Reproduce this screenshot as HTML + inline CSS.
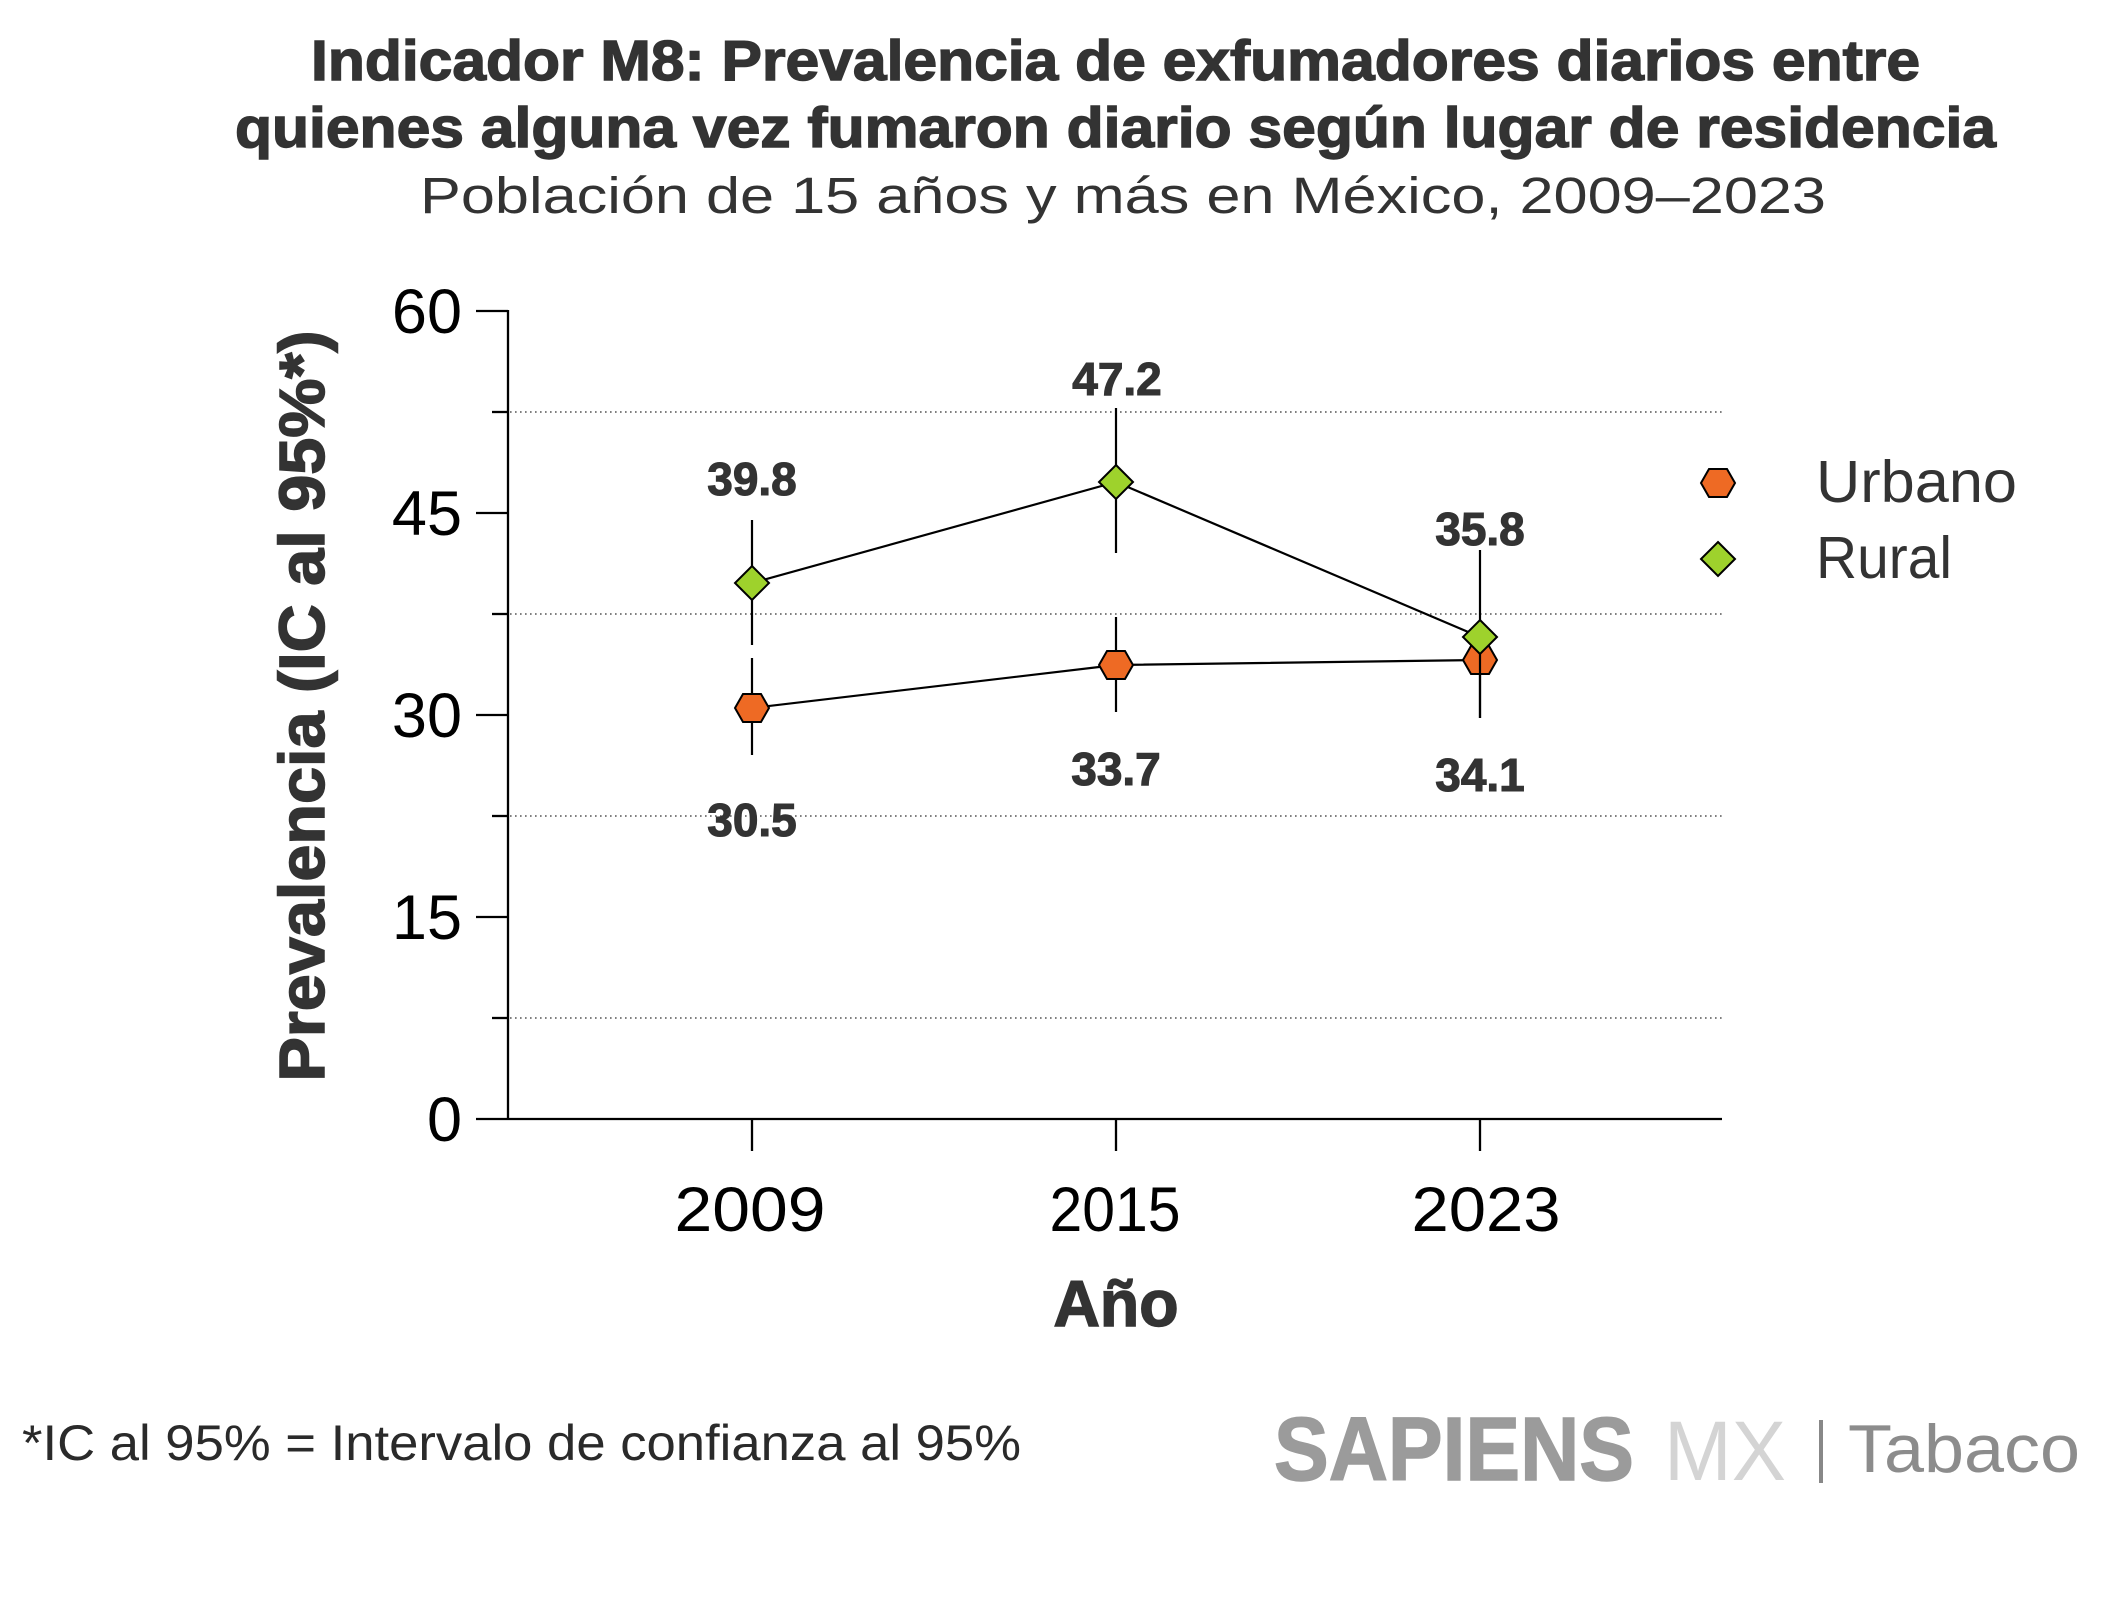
<!DOCTYPE html>
<html>
<head>
<meta charset="utf-8">
<style>
html,body{margin:0;padding:0;background:#fff;}
svg{display:block;}
text{font-family:"Liberation Sans",Arial,sans-serif;}
</style>
</head>
<body>
<svg width="2105" height="1600" viewBox="0 0 2105 1600" xmlns="http://www.w3.org/2000/svg">
<rect width="2105" height="1600" fill="#fff"/>

<!-- Titles -->
<text x="1115.5" y="80" font-size="57" font-weight="bold" fill="#333" stroke="#333" stroke-width="1.4" text-anchor="middle" textLength="1609" lengthAdjust="spacingAndGlyphs">Indicador M8: Prevalencia de exfumadores diarios entre</text>
<text x="1115.5" y="147" font-size="57" font-weight="bold" fill="#333" stroke="#333" stroke-width="1.4" text-anchor="middle" textLength="1761" lengthAdjust="spacingAndGlyphs">quienes alguna vez fumaron diario según lugar de residencia</text>
<text x="1123" y="213" font-size="51" fill="#333" text-anchor="middle" textLength="1406" lengthAdjust="spacingAndGlyphs">Población de 15 años y más en México, 2009–2023</text>

<!-- Gridlines -->
<g stroke="#555" stroke-width="1.6" stroke-dasharray="1.6 3.4">
<line x1="510" y1="412" x2="1722" y2="412"/>
<line x1="510" y1="614" x2="1722" y2="614"/>
<line x1="510" y1="816" x2="1722" y2="816"/>
<line x1="510" y1="1018" x2="1722" y2="1018"/>
</g>

<!-- Axes -->
<g stroke="#000" stroke-width="2.3" fill="none">
<line x1="508" y1="310" x2="508" y2="1120"/>
<line x1="476" y1="1119" x2="1722" y2="1119"/>
<line x1="476" y1="311" x2="508" y2="311"/>
<line x1="476" y1="513" x2="508" y2="513"/>
<line x1="476" y1="715" x2="508" y2="715"/>
<line x1="476" y1="917" x2="508" y2="917"/>
<line x1="492" y1="412" x2="508" y2="412"/>
<line x1="492" y1="614" x2="508" y2="614"/>
<line x1="492" y1="816" x2="508" y2="816"/>
<line x1="492" y1="1018" x2="508" y2="1018"/>
<line x1="752" y1="1119" x2="752" y2="1151"/>
<line x1="1116" y1="1119" x2="1116" y2="1151"/>
<line x1="1480" y1="1119" x2="1480" y2="1151"/>
</g>

<!-- Y tick labels -->
<g font-size="63" fill="#000" text-anchor="end">
<text x="462" y="333">60</text>
<text x="462" y="535">45</text>
<text x="462" y="737">30</text>
<text x="462" y="939">15</text>
<text x="462" y="1141">0</text>
</g>

<!-- X tick labels -->
<g font-size="63" fill="#000" text-anchor="middle">
<text x="750" y="1231" textLength="151" lengthAdjust="spacingAndGlyphs">2009</text>
<text x="1115" y="1231" textLength="131" lengthAdjust="spacingAndGlyphs">2015</text>
<text x="1486" y="1231" textLength="149" lengthAdjust="spacingAndGlyphs">2023</text>
</g>

<!-- Axis titles -->
<text x="1116" y="1326" font-size="65" font-weight="bold" fill="#333" stroke="#333" stroke-width="1.5" text-anchor="middle" textLength="125" lengthAdjust="spacingAndGlyphs">Año</text>
<text transform="translate(324,706) rotate(-90)" x="0" y="0" font-size="64" font-weight="bold" fill="#333" stroke="#333" stroke-width="1.5" text-anchor="middle" textLength="751" lengthAdjust="spacingAndGlyphs">Prevalencia (IC al 95%*)</text>

<!-- Urbano series -->
<g stroke="#000" stroke-width="2.2">
<line x1="752" y1="658" x2="752" y2="755"/>
<line x1="1116" y1="617" x2="1116" y2="712"/>
<line x1="1480" y1="630" x2="1480" y2="718"/>
</g>
<polyline points="752,708 1116,665 1480,660" fill="none" stroke="#000" stroke-width="2.2"/>
<g fill="#EE6A24" stroke="#000" stroke-width="2">
<polygon transform="translate(752,708)" points="-17,0 -9,-14 9,-14 17,0 9,14 -9,14"/>
<polygon transform="translate(1116,665)" points="-17,0 -9,-14 9,-14 17,0 9,14 -9,14"/>
<polygon transform="translate(1480,660)" points="-17,0 -9,-14 9,-14 17,0 9,14 -9,14"/>
</g>

<!-- Rural series -->
<g stroke="#000" stroke-width="2.2">
<line x1="752" y1="520" x2="752" y2="645"/>
<line x1="1116" y1="408" x2="1116" y2="553"/>
<line x1="1480" y1="550" x2="1480" y2="718"/>
</g>
<polyline points="752,583 1116,482 1480,637" fill="none" stroke="#000" stroke-width="2.2"/>
<g fill="#9ED22C" stroke="#000" stroke-width="2">
<polygon transform="translate(752,583)" points="0,-17 17,0 0,17 -17,0"/>
<polygon transform="translate(1116,482)" points="0,-17 17,0 0,17 -17,0"/>
<polygon transform="translate(1480,637)" points="0,-17 17,0 0,17 -17,0"/>
</g>

<!-- Value labels -->
<g font-size="46" font-weight="bold" fill="#333" stroke="#333" stroke-width="1.1" text-anchor="middle">
<text x="752" y="495">39.8</text>
<text x="1117" y="395">47.2</text>
<text x="1480" y="545">35.8</text>
<text x="752" y="836">30.5</text>
<text x="1116" y="785">33.7</text>
<text x="1480" y="791">34.1</text>
</g>

<!-- Legend -->
<polygon transform="translate(1718,483)" points="-17,0 -9,-14 9,-14 17,0 9,14 -9,14" fill="#EE6A24" stroke="#000" stroke-width="2"/>
<polygon transform="translate(1718,559)" points="0,-17 17,0 0,17 -17,0" fill="#9ED22C" stroke="#000" stroke-width="2"/>
<text x="1816" y="502" font-size="59" fill="#333" textLength="201" lengthAdjust="spacingAndGlyphs">Urbano</text>
<text x="1816" y="578" font-size="59" fill="#333" textLength="136" lengthAdjust="spacingAndGlyphs">Rural</text>

<!-- Footnote -->
<text x="22" y="1460" font-size="50" fill="#2a2a2a" textLength="999" lengthAdjust="spacingAndGlyphs">*IC al 95% = Intervalo de confianza al 95%</text>

<!-- Logo -->
<text x="1274" y="1480" font-size="90" font-weight="bold" fill="#9b9b9b" stroke="#9b9b9b" stroke-width="1.5" textLength="360" lengthAdjust="spacingAndGlyphs">SAPIENS</text>
<text x="1664" y="1480" font-size="84" fill="#d4d4d4" textLength="122" lengthAdjust="spacingAndGlyphs">MX</text>
<rect x="1819" y="1420" width="4" height="63" fill="#888"/>
<text x="1848" y="1472" font-size="68" fill="#8c8c8c" textLength="232" lengthAdjust="spacingAndGlyphs">Tabaco</text>
</svg>
</body>
</html>
